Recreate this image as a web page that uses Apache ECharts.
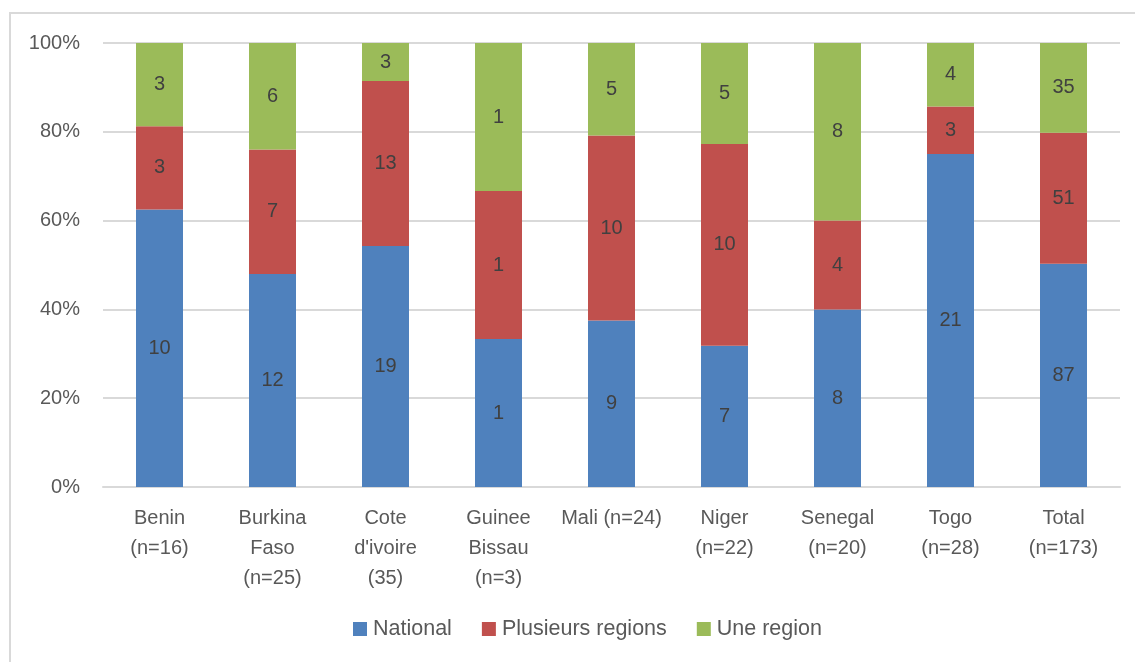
<!DOCTYPE html>
<html>
<head>
<meta charset="utf-8">
<script src="https://cdn.jsdelivr.net/npm/echarts@6/dist/echarts.min.js"></script>
<style>
	html, body {margin: 0; padding: 0; background: #fff;}
	#frame {position: absolute; left: 9px; top: 12px; width: 1200px; height: 700px;
		border-left: 2px solid #d9d9d9; border-top: 2px solid #d9d9d9;}
	#main {position: absolute; left: 0; top: 0; width: 1135px; height: 662px;}
</style>
</head>
<body>
<div id="frame"></div>
<div id="main"></div>
<script>
var categories = ["Benin\n(n=16)", "Burkina\nFaso\n(n=25)", "Cote\nd'ivoire\n(35)", "Guinee\nBissau\n(n=3)",
	"Mali (n=24)", "Niger\n(n=22)", "Senegal\n(n=20)", "Togo\n(n=28)", "Total\n(n=173)"];
var national = [10, 12, 19, 1, 9, 7, 8, 21, 87];
var plusieurs = [3, 7, 13, 1, 10, 10, 4, 3, 51];
var uneRegion = [3, 6, 3, 1, 5, 5, 8, 4, 35];
var yTicks = [0, 20, 40, 60, 80, 100];

var FONT = "Liberation Sans";
var TEXT = "#595959";
var FS = 20;

function toPct(counts, idx){
	var total = national[idx] + plusieurs[idx] + uneRegion[idx];
	return counts[idx] / total * 100;
}

function makeSeries(name, counts, color){
	return {
		name: name,
		type: "bar",
		stack: "all",
		barWidth: 47,
		itemStyle: {color: color},
		label: {
			show: true,
			position: "inside",
			color: "#404040",
			fontFamily: FONT,
			fontSize: FS,
			formatter: function(p){ return counts[p.dataIndex]; }
		},
		data: counts.map(function(v, i){ return toPct(counts, i); })
	};
}

var chart = echarts.init(document.getElementById("main"));
chart.setOption({
	animation: false,
	textStyle: {fontFamily: FONT},
	grid: {left: 103, right: 15, top: 43, bottom: 175},
	legend: {
		bottom: 17,
		left: 348,
		itemWidth: 14,
		itemHeight: 14,
		itemGap: 30,
		icon: "rect",
		textStyle: {color: TEXT, fontSize: 21.5, fontFamily: FONT, padding: [0, 0, 0, 1]},
		data: ["National", "Plusieurs regions", "Une region"]
	},
	xAxis: {
		type: "category",
		data: categories,
		axisLine: {lineStyle: {color: "#d9d9d9", width: 2}},
		axisTick: {show: false},
		axisLabel: {
			color: TEXT, fontSize: FS, fontFamily: FONT, lineHeight: 30,
			margin: 16, interval: 0
		}
	},
	yAxis: {
		type: "value",
		min: yTicks[0],
		max: yTicks[yTicks.length - 1],
		interval: 20,
		axisLine: {show: false},
		axisTick: {show: false},
		splitLine: {lineStyle: {color: "#d9d9d9", width: 2}},
		axisLabel: {
			color: TEXT, fontSize: FS, fontFamily: FONT, margin: 23,
			formatter: "{value}%"
		}
	},
	series: [
		makeSeries("National", national, "#4F81BD"),
		makeSeries("Plusieurs regions", plusieurs, "#C0504D"),
		makeSeries("Une region", uneRegion, "#9BBB59")
	]
});
</script>
</body>
</html>
